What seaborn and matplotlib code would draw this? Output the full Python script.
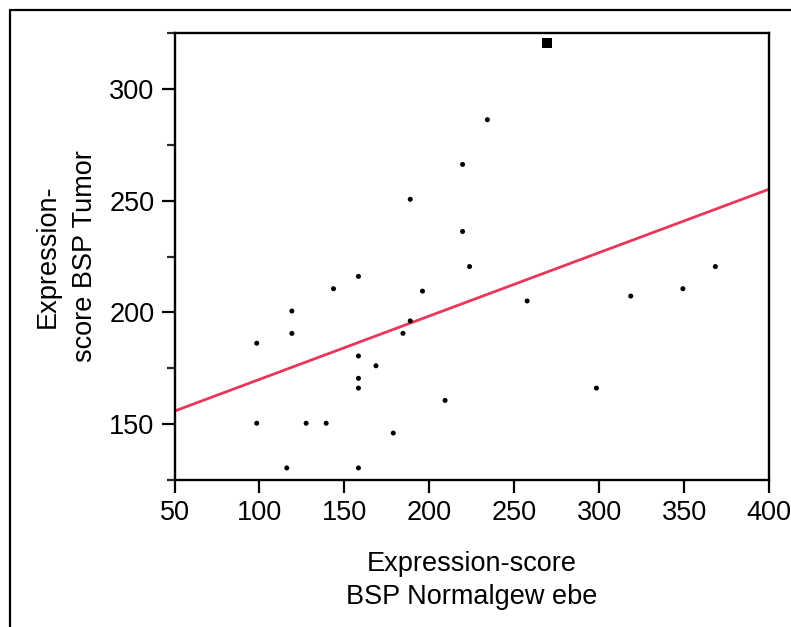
import matplotlib
matplotlib.use("Agg")
import matplotlib.pyplot as plt
from matplotlib.lines import Line2D
import seaborn as sns
import pandas as pd

# Data
x_normal = [98.4, 98.4, 119.1, 119.1, 116.1, 127.5, 139.3, 143.6, 158.3, 158.3,
            158.3, 158.3, 158.3, 168.6, 178.8, 184.5, 188.8, 188.8, 196.0, 209.3,
            219.6, 219.6, 223.7, 234.2, 257.6, 298.4, 318.6, 349.3, 368.4]
y_normal = [186.2, 150.4, 200.6, 190.6, 130.4, 150.4, 150.4, 210.6, 216.1, 180.5,
            170.5, 166.1, 130.4, 176.1, 146.0, 190.6, 196.2, 250.6, 209.5, 160.6,
            266.2, 236.2, 220.5, 286.2, 205.1, 166.1, 207.3, 210.6, 220.5]
x_highlight = [269.1]
y_highlight = [320.5]

x_ticks = [50, 100, 150, 200, 250, 300, 350, 400]
y_ticks = [150, 200, 250, 300]
y_minor_ticks = [125, 175, 225, 275, 325]

x_label = "Expression-score\nBSP Normalgew ebe"
y_label = "Expression-\nscore BSP Tumor"

sns.set_style("ticks")
plt.rcParams["font.family"] = ["Liberation Sans", "DejaVu Sans"]
plt.rcParams["text.color"] = "black"
plt.rcParams["axes.labelcolor"] = "black"

df_all = pd.DataFrame({"x": x_normal + x_highlight, "y": y_normal + y_highlight})
df_norm = pd.DataFrame({"x": x_normal, "y": y_normal})
df_hi = pd.DataFrame({"x": x_highlight, "y": y_highlight})

fig = plt.figure(figsize=(7.91, 6.27), dpi=100)
ax = fig.add_axes([174.5 / 791, 1 - 480 / 627, (769 - 174.5) / 791, (480 - 33) / 627])

ax.set_xlim(50, 400)
ax.set_ylim(125, 325)

sns.regplot(data=df_all, x="x", y="y", ax=ax, scatter=False, ci=None, truncate=False,
            line_kws={"color": "#e8375a", "linewidth": 2.0, "zorder": 2})
sns.scatterplot(data=df_norm, x="x", y="y", ax=ax, color="black", s=13,
                marker="o", edgecolor="none", zorder=3, legend=False)
sns.scatterplot(data=df_hi, x="x", y="y", ax=ax, color="black", s=55,
                marker="s", edgecolor="none", zorder=3, legend=False)

ax.set_xlim(50, 400)
ax.set_ylim(125, 325)
ax.set_xticks(x_ticks)
ax.set_xticklabels([str(t) for t in x_ticks])
ax.set_yticks(y_ticks)
ax.set_yticklabels([str(t) for t in y_ticks])
ax.set_yticks(y_minor_ticks, minor=True)

for s in ax.spines.values():
    s.set_visible(True)
    s.set_linewidth(1.7)
    s.set_color("black")

ax.tick_params(axis="both", which="major", direction="out", length=9.5, width=1.6,
               labelsize=19.5, colors="black", pad=5)
ax.tick_params(axis="y", which="minor", direction="out", length=5.5, width=1.6)

ax.set_xlabel(x_label, fontsize=19.5, labelpad=18, linespacing=1.35, color="black")
ax.set_ylabel(y_label, fontsize=19.5, labelpad=8, linespacing=1.55, color="black")

# outer frame (left and top edges visible)
fig.add_artist(Line2D([10 / 791, 10 / 791], [0, 1 - 9.5 / 627], transform=fig.transFigure,
                      color="black", linewidth=1.6))
fig.add_artist(Line2D([10 / 791, 1], [1 - 9.5 / 627, 1 - 9.5 / 627], transform=fig.transFigure,
                      color="black", linewidth=1.6))

fig.savefig("out.png", dpi=100, facecolor="white")
